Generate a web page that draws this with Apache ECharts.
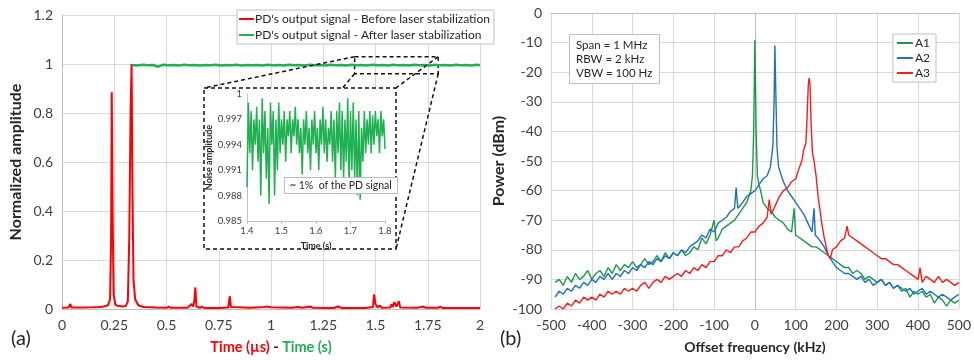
<!DOCTYPE html>
<html><head><meta charset="utf-8">
<script src="https://cdn.jsdelivr.net/npm/echarts@6/dist/echarts.min.js"></script>
<style>html,body{margin:0;padding:0;background:#fff}#c{width:974px;height:360px}</style>
</head><body><div id="c"></div>
<script>
// ---------- (a) time-domain data ----------
const redTime = [0,0.03,0.04,0.045,0.1,0.15,0.18,0.2,0.22,0.23,0.235,0.238,0.242,0.247,0.255,0.27,0.29,0.305,0.315,0.322,0.328,0.333,0.337,0.342,0.35,0.365,0.39,0.45,0.5,0.51,0.52,0.6,0.62,0.628,0.634,0.638,0.643,0.66,0.67,0.68,0.75,0.795,0.803,0.808,0.9,0.97,0.98,1.0,1.1,1.13,1.15,1.19,1.2,1.3,1.32,1.34,1.45,1.488,1.493,1.5,1.51,1.52,1.53,1.57,1.577,1.583,1.59,1.6,1.612,1.618,1.7,1.73,1.74,1.8,1.81,1.82,1.9,2.0];
const redAmp = [0.005,0.006,0.02,0.006,0.006,0.007,0.008,0.01,0.015,0.04,0.3,0.885,0.4,0.06,0.018,0.012,0.01,0.012,0.03,0.3,0.8,1.0,0.5,0.12,0.04,0.015,0.008,0.006,0.005,0.01,0.005,0.005,0.02,0.01,0.04,0.088,0.01,0.005,0.01,0.004,0.004,0.006,0.052,0.008,0.005,0.008,0.01,0.007,0.005,0.008,0.005,0.01,0.005,0.004,0.01,0.004,0.004,0.008,0.06,0.02,0.006,0.015,0.005,0.006,0.02,0.008,0.028,0.01,0.032,0.006,0.005,0.01,0.005,0.005,0.01,0.004,0.004,0.004];
const greenTime = [0.335,0.36,0.385,0.41,0.435,0.46,0.485,0.51,0.535,0.56,0.585,0.61,0.635,0.66,0.685,0.71,0.735,0.76,0.785,0.81,0.835,0.86,0.885,0.91,0.935,0.96,0.985,1.01,1.035,1.06,1.085,1.11,1.135,1.16,1.185,1.21,1.235,1.26,1.285,1.31,1.335,1.36,1.385,1.41,1.435,1.46,1.485,1.51,1.535,1.56,1.585,1.61,1.635,1.66,1.685,1.71,1.735,1.76,1.785,1.81,1.835,1.86,1.885,1.91,1.935,1.96,1.985,2.0];
const greenAmp = [0.996,0.994,0.997,0.995,0.996,0.989,0.997,0.995,0.996,0.994,0.997,0.995,0.996,0.994,0.996,0.995,0.997,0.994,0.996,0.995,0.997,0.994,0.996,0.995,0.996,0.994,0.997,0.995,0.996,0.994,0.997,0.995,0.996,0.994,0.997,0.995,0.996,0.994,0.997,0.995,0.996,0.994,0.997,0.995,0.996,0.994,0.997,0.995,0.996,0.994,0.997,0.995,0.996,0.994,0.997,0.995,0.996,0.994,0.997,0.995,0.996,0.994,0.997,0.995,0.996,0.994,0.997,0.995];
const mainXTicks = [0, 2, 0.25];
const mainYTicks = [0, 1.2, 0.2];
// zoomed window (x range, y range) shown in the inset
const zoomX = [1.4, 1.8];
const zoomY = [0.96, 1.03];
// ---------- inset data ----------
const insetTime = [1.4,1.404,1.408,1.412,1.416,1.42,1.424,1.428,1.432,1.436,1.44,1.444,1.448,1.452,1.456,1.46,1.464,1.468,1.472,1.476,1.48,1.484,1.488,1.492,1.496,1.5,1.504,1.508,1.512,1.516,1.52,1.524,1.528,1.532,1.536,1.54,1.544,1.548,1.552,1.556,1.56,1.564,1.568,1.572,1.576,1.58,1.584,1.588,1.592,1.596,1.6,1.604,1.608,1.612,1.616,1.62,1.624,1.628,1.632,1.636,1.64,1.644,1.648,1.652,1.656,1.66,1.664,1.668,1.672,1.676,1.68,1.684,1.688,1.692,1.696,1.7,1.704,1.708,1.712,1.716,1.72,1.724,1.728,1.732,1.736,1.74,1.744,1.748,1.752,1.756,1.76,1.764,1.768,1.772,1.776,1.78,1.784,1.788,1.792,1.796,1.8];
const insetNoise = [0.989,0.999,0.993,0.998,0.991,0.997,0.994,0.9985,0.992,0.997,0.988,0.9995,0.993,0.998,0.990,0.996,0.987,0.999,0.994,0.998,0.988,0.997,0.991,0.999,0.993,0.997,0.994,0.998,0.992,0.997,0.995,0.998,0.993,0.997,0.995,0.9985,0.994,0.997,0.993,0.996,0.9905,0.997,0.994,0.998,0.993,0.996,0.991,0.997,0.994,0.998,0.993,0.996,0.991,0.997,0.994,0.9985,0.993,0.997,0.992,0.996,0.994,0.998,0.992,0.997,0.990,0.998,0.993,0.999,0.991,0.998,0.990,0.997,0.992,0.9995,0.989,0.998,0.991,0.999,0.990,0.997,0.988,0.998,0.9875,0.996,0.992,0.998,0.993,0.997,0.994,0.998,0.993,0.9975,0.994,0.998,0.995,0.997,0.993,0.998,0.995,0.997,0.9935];
const insetXTicks = [1.4, 1.8, 0.1];
const insetYTicks = [0.985, 1.0, 0.003];
const arrowSpan = [1.49, 0.9992, 0.9875];
// ---------- (b) spectra ----------
const freqA1 = [-490,-480,-470,-460,-450,-440,-430,-420,-410,-400,-390,-380,-370,-360,-350,-340,-330,-320,-310,-300,-290,-280,-270,-260,-250,-240,-230,-220,-210,-200,-190,-180,-170,-160,-150,-140,-130,-120,-110,-100,-95,-90,-80,-70,-60,-50,-40,-30,-20,-10,-6,-3,0,3,6,10,14,20,30,40,50,60,70,80,90,96,100,110,120,130,140,150,160,170,180,190,200,210,220,230,240,250,260,270,280,290,300,310,320,330,340,350,360,370,380,390,400,410,420,430,440,450,460,470,480,490,500];
const powA1 = [-91,-90,-92,-89,-91,-88,-90,-89,-87,-90,-88,-87,-89,-86,-88,-85,-87,-85,-86,-84,-86,-85,-83,-85,-84,-82,-84,-81,-83,-81,-82,-80,-82,-81,-79,-80,-76,-78,-75,-70,-77,-76,-73,-72,-71,-70,-68,-66,-64,-60,-55,-40,-9,-40,-55,-58,-60,-64,-66,-67,-69,-70,-71,-73,-74,-66,-75,-76,-77,-78,-79,-79,-80,-81,-82,-83,-84,-85,-86,-86,-88,-87,-88,-90,-89,-90,-91,-90,-92,-91,-93,-92,-94,-93,-96,-94,-95,-94,-96,-95,-98,-96,-97,-99,-97,-98,-97];
const freqA2 = [-490,-480,-470,-460,-450,-440,-430,-420,-410,-400,-390,-380,-370,-360,-350,-340,-330,-320,-310,-300,-290,-280,-270,-260,-250,-240,-230,-220,-210,-200,-190,-180,-170,-160,-150,-140,-130,-120,-110,-100,-90,-80,-70,-60,-50,-46,-42,-30,-20,-10,0,10,20,30,38,44,47,49,51,54,58,65,70,80,90,100,110,120,130,140,145,148,160,170,180,190,200,210,220,230,240,250,260,270,280,290,300,310,320,330,340,350,360,370,380,390,400,410,420,430,440,450,460,470,480,490,500];
const powA2 = [-96,-94,-95,-93,-94,-92,-93,-91,-92,-90,-91,-89,-90,-88,-90,-88,-89,-87,-88,-86,-87,-85,-86,-84,-85,-83,-84,-82,-83,-81,-82,-80,-81,-79,-78,-77,-75,-76,-73,-74,-71,-70,-69,-67,-66,-59,-66,-64,-62,-61,-60,-58,-56,-55,-52,-45,-30,-11,-25,-45,-52,-55,-57,-60,-62,-64,-66,-68,-71,-74,-66,-75,-77,-79,-82,-84,-86,-87,-88,-88,-89,-90,-89,-91,-90,-92,-91,-90,-92,-91,-93,-92,-93,-94,-93,-95,-94,-93,-95,-94,-95,-96,-95,-96,-97,-96,-95];
const freqA3 = [-490,-480,-470,-460,-450,-440,-430,-420,-410,-400,-390,-380,-370,-360,-350,-340,-330,-320,-310,-300,-290,-280,-270,-260,-250,-240,-230,-220,-210,-200,-190,-180,-170,-160,-150,-140,-130,-120,-110,-100,-90,-80,-70,-60,-50,-40,-30,-20,-10,0,10,20,30,35,40,50,60,70,80,90,100,107,115,120,125,128,131,133,135,138,141,145,150,155,160,165,170,175,180,185,190,200,210,220,226,230,240,250,260,270,280,290,300,310,320,330,340,350,360,370,380,390,400,405,410,420,430,440,450,460,470,480,490,500];
const powA3 = [-100,-99,-100,-98,-99,-97,-98,-96,-97,-96,-97,-95,-96,-94,-95,-94,-95,-93,-94,-93,-94,-92,-91,-93,-91,-90,-91,-89,-90,-89,-88,-89,-87,-88,-86,-87,-85,-86,-84,-84,-82,-82,-80,-81,-79,-79,-77,-76,-74,-74,-72,-71,-69,-63,-68,-65,-62,-60,-59,-57,-56,-53,-50,-46,-44,-35,-24,-22,-24,-38,-47,-50,-55,-62,-67,-72,-76,-79,-82,-83,-80,-79,-77,-76,-72,-75,-76,-77,-78,-79,-80,-81,-82,-83,-83,-84,-85,-85,-86,-87,-88,-89,-90,-86,-91,-89,-90,-91,-89,-91,-90,-91,-92,-91];
const specXTicks = [-500, 500, 100];
const specYTicks = [-100, 0, 10];

const pairs = (xs, ys) => xs.map((x, i) => [x, ys[i]]);
const RED = '#ff0000', GREEN = '#1fb050';
const C1 = '#1a9a48', C2 = '#1f70c1', C3 = '#ff1a1a';
const AX = '#bfbfbf', SPL = '#d9d9d9', LBL = '#404040', NM = '#262626';

const chart = echarts.init(document.getElementById('c'));
function valAxis(t, extra) {
  return Object.assign({
    type: 'value', min: t[0], max: t[1], interval: t[2],
    axisLine: { show: true, lineStyle: { color: AX } },
    axisTick: { show: false },
    splitLine: { show: true, lineStyle: { color: SPL } },
    axisLabel: { color: LBL, fontSize: 14 },
    nameTextStyle: { color: NM, fontWeight: 'bold', fontSize: 14 }
  }, extra);
}
const option = {
  animation: false,
  textStyle: { fontFamily: 'Lato' },
  grid: [
    { left: 62, right: 494, top: 15, bottom: 51 },
    { left: 247, right: 589, top: 94, bottom: 139, z: 10 },
    { left: 551, right: 13, top: 13, bottom: 51 }
  ],
  xAxis: [
    valAxis(mainXTicks, { gridIndex: 0, name: '{r|Time (µs)}{k| - }{g|Time (s)}', nameLocation: 'middle', nameGap: 31,
      axisLabel: { color: LBL, fontSize: 14, margin: 9 },
      nameTextStyle: { rich: { r: { color: RED, fontWeight: 'bold', fontSize: 14.5 }, k: { color: NM, fontWeight: 'bold', fontSize: 14.5 }, g: { color: GREEN, fontWeight: 'bold', fontSize: 14.5 } } } }),
    valAxis(insetXTicks, { gridIndex: 1, z: 10, name: 'Time (s)', nameLocation: 'middle', nameGap: 21,
      splitLine: { show: false }, axisTick: { show: true, length: 3, lineStyle: { color: AX } },
      axisLabel: { color: LBL, fontSize: 9.5, margin: 5, formatter: v => v.toFixed(1) },
      nameTextStyle: { color: NM, fontWeight: 'bold', fontSize: 9 } }),
    valAxis(specXTicks, { gridIndex: 2, name: 'Offset frequency (kHz)', nameLocation: 'middle', nameGap: 31,
      axisLabel: { color: LBL, fontSize: 14, margin: 9 } })
  ],
  yAxis: [
    valAxis(mainYTicks, { gridIndex: 0, name: 'Normalized amplitude', nameLocation: 'middle', nameGap: 38,
      axisLabel: { color: LBL, fontSize: 14, margin: 9 },
      nameTextStyle: { color: NM, fontWeight: 'bold', fontSize: 16 } }),
    valAxis(insetYTicks, { gridIndex: 1, z: 10, name: 'Noise amplitude', nameLocation: 'middle', nameGap: 32,
      splitLine: { show: false },
      axisLabel: { color: LBL, fontSize: 9.5, margin: 5, formatter: v => (Math.abs(v - 1) < 1e-9 ? '1' : v.toFixed(3)) },
      nameTextStyle: { color: NM, fontWeight: 'bold', fontSize: 9 } }),
    valAxis(specYTicks, { gridIndex: 2, name: 'Power (dBm)', nameLocation: 'middle', nameGap: 44,
      axisLabel: { color: LBL, fontSize: 14, margin: 9 },
      nameTextStyle: { color: NM, fontWeight: 'bold', fontSize: 16 } })
  ],
  legend: [
    { orient: 'vertical', left: 237, top: 10, backgroundColor: '#fff', borderColor: AX, borderWidth: 1,
      padding: [3, 4, 3, 2], itemGap: 4, itemWidth: 15, itemHeight: 2, icon: 'rect',
      textStyle: { fontSize: 12, color: NM, padding: [0, 0, 0, -4] },
      data: ["PD's output signal - Before laser stabilization", "PD's output signal - After laser stabilization"] },
    { orient: 'vertical', right: 38, top: 34, backgroundColor: '#fff', borderColor: AX, borderWidth: 1,
      padding: [3, 6, 3, 4], itemGap: 3, itemWidth: 16, itemHeight: 2, icon: 'rect',
      textStyle: { fontSize: 12, color: NM, padding: [0, 0, 0, -3] },
      data: ['A1', 'A2', 'A3'] }
  ],
  title: [
    { text: 'Span = 1 MHz\nRBW = 2 kHz\nVBW = 100 Hz', left: 569, top: 34, borderColor: AX, borderWidth: 1, backgroundColor: '#fff',
      padding: [4, 7], textStyle: { fontSize: 11.5, fontWeight: 'normal', color: NM, lineHeight: 14 } },
    { text: '~ 1%  of the PD signal', left: 284, top: 177, z: 12, borderColor: AX, borderWidth: 1, backgroundColor: '#fff',
      padding: [3, 6], textStyle: { fontSize: 10.5, fontWeight: 'normal', color: NM } },
    { text: '(a)', left: 11, top: 329, padding: 0, textStyle: { fontSize: 20, fontWeight: 'normal', color: NM } },
    { text: '(b)', left: 500, top: 329, padding: 0, textStyle: { fontSize: 20, fontWeight: 'normal', color: NM } }
  ],
  series: [
    { name: "PD's output signal - Before laser stabilization", type: 'line', xAxisIndex: 0, yAxisIndex: 0,
      data: pairs(redTime, redAmp), showSymbol: false, color: RED, lineStyle: { width: 2, color: RED } },
    { name: "PD's output signal - After laser stabilization", type: 'line', xAxisIndex: 0, yAxisIndex: 0,
      data: pairs(greenTime, greenAmp), showSymbol: false, color: GREEN, lineStyle: { width: 2.5, color: GREEN },
      markArea: { silent: true, itemStyle: { color: 'rgba(0,0,0,0)', borderColor: '#111', borderWidth: 1.5, borderType: [4, 3] },
        data: [[{ xAxis: zoomX[0], yAxis: zoomY[1] }, { xAxis: zoomX[1], yAxis: zoomY[0] }]] } },
    { name: 'inset', type: 'line', xAxisIndex: 1, yAxisIndex: 1, z: 10,
      data: pairs(insetTime, insetNoise), showSymbol: false, color: GREEN, lineStyle: { width: 1.5, color: GREEN },
      markLine: { silent: true, symbol: ['arrow', 'arrow'], symbolSize: [6, 7], label: { show: false },
        lineStyle: { color: '#000', width: 1.2, type: 'solid' },
        data: [[{ coord: [arrowSpan[0], arrowSpan[1]] }, { coord: [arrowSpan[0], arrowSpan[2]] }]] } },
    { name: 'A1', type: 'line', xAxisIndex: 2, yAxisIndex: 2, data: pairs(freqA1, powA1), showSymbol: false, color: C1, lineStyle: { width: 1.4, color: C1 } },
    { name: 'A2', type: 'line', xAxisIndex: 2, yAxisIndex: 2, data: pairs(freqA2, powA2), showSymbol: false, color: C2, lineStyle: { width: 1.4, color: C2 } },
    { name: 'A3', type: 'line', xAxisIndex: 2, yAxisIndex: 2, data: pairs(freqA3, powA3), showSymbol: false, color: C3, lineStyle: { width: 1.4, color: C3 } }
  ]
};
chart.setOption(option);

// inset frame and zoom-connector lines, positioned from the main axis scale
const px = (x, y) => chart.convertToPixel({ gridIndex: 0 }, [x, y]);
const frame = { x: 204, y: 88, w: 192, h: 161 };
const ztl = px(zoomX[0], zoomY[1]), ztr = px(zoomX[1], zoomY[1]);
const zbl = px(zoomX[0], zoomY[0]), zbr = px(zoomX[1], zoomY[0]);
const dash = { stroke: '#111', lineWidth: 1.5, lineDash: [4, 3] };
const ln = (a, b) => ({ type: 'line', z: 5, shape: { x1: a[0], y1: a[1], x2: b[0], y2: b[1] }, style: dash, silent: true });
chart.setOption({
  graphic: [
    ln(ztl, [frame.x, frame.y]),
    ln(zbl, [frame.x, frame.y + frame.h]),
    ln(ztr, [frame.x + frame.w, frame.y]),
    ln(zbr, [frame.x + frame.w, frame.y + frame.h]),
    { type: 'rect', z: 6, shape: { x: frame.x, y: frame.y, width: frame.w, height: frame.h },
      style: { fill: '#fff', stroke: '#111', lineWidth: 1.5, lineDash: [4, 3] }, silent: true }
  ]
});
</script></body></html>
